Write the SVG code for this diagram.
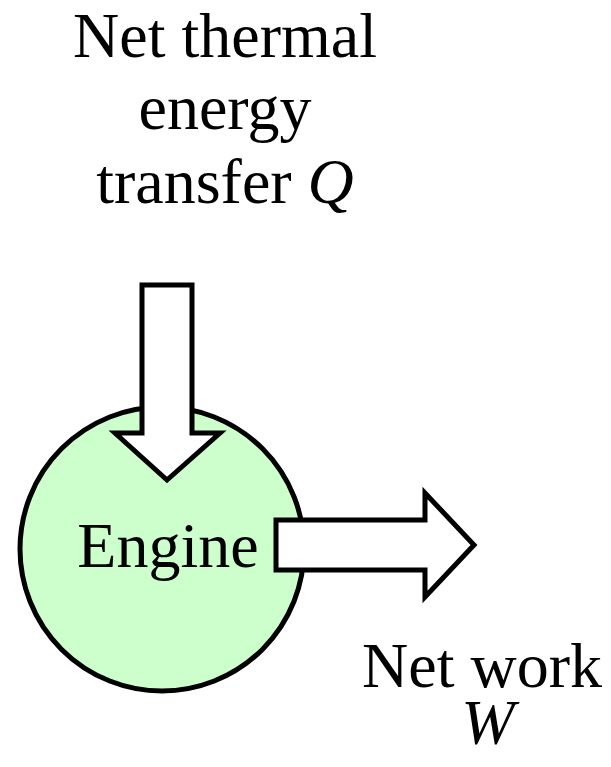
<svg xmlns="http://www.w3.org/2000/svg" width="611" height="767" viewBox="0 0 611 767">
<style>
.t{font-family:"Liberation Serif","Times New Roman",serif;font-size:64px;fill:#000;text-anchor:middle}
.i{font-style:italic}
.s{stroke:#000;stroke-width:5;stroke-linejoin:miter}
</style>
<rect width="611" height="767" fill="#fff"/>
<g id="engine">
<circle class="s" cx="162" cy="549" r="142" fill="#ccffcc"/>
<text class="t" x="168" y="567">Engine</text>
</g>
<g id="connectors">
<polygon id="heat-arrow" class="s" fill="#fff" points="142,285 192,285 192,433 220,433 167,480 115,433 142,433"/>
<polygon id="work-arrow" class="s" fill="#fff" points="276,520 425,520 425,493 474,545 425,597 425,570 276,570"/>
</g>
<g id="label-q">
<text class="t" x="225" y="57">Net thermal</text>
<text class="t" x="225" y="129">energy</text>
<text class="t" x="225" y="203">transfer <tspan class="i">Q</tspan></text>
</g>
<g id="label-w">
<text class="t" x="482" y="687">Net work</text>
<text class="t i" x="488" y="744">W</text>
</g>
</svg>
